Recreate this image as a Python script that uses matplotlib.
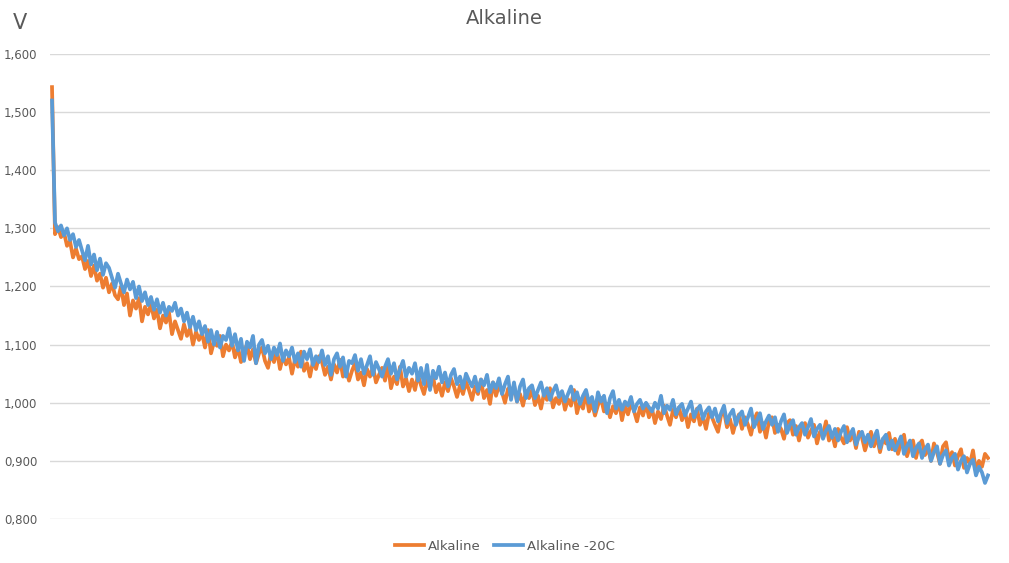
import numpy as np
import matplotlib
matplotlib.use("Agg")
import matplotlib.pyplot as plt
from matplotlib.ticker import FuncFormatter, MultipleLocator

# voltages in mV, one reading per sample
alkaline = [
    1543, 1290, 1302, 1285, 1293, 1270, 1278, 1250, 1265, 1247,
    1252, 1230, 1244, 1218, 1236, 1210, 1222, 1198, 1215, 1190,
    1205, 1185, 1178, 1200, 1168, 1188, 1150, 1176, 1162, 1180,
    1140, 1165, 1152, 1170, 1145, 1160, 1128, 1150, 1138, 1155,
    1118, 1140, 1125, 1110, 1135, 1115, 1128, 1100, 1122, 1108,
    1120, 1095, 1125, 1085, 1105, 1098, 1115, 1080, 1100, 1090,
    1105, 1078, 1095, 1070, 1088, 1100, 1075, 1092, 1068, 1085,
    1095, 1072, 1060, 1085, 1070, 1090, 1058, 1080, 1066, 1078,
    1050, 1075, 1062, 1088, 1055, 1068, 1045, 1072, 1058, 1080,
    1070, 1048, 1062, 1040, 1066, 1052, 1074, 1045, 1058, 1038,
    1055, 1068, 1040, 1052, 1030, 1058, 1045, 1062, 1035, 1048,
    1060, 1038, 1065, 1025, 1045, 1032, 1062, 1028, 1042, 1020,
    1040, 1022, 1048, 1030, 1015, 1038, 1025, 1045, 1018, 1032,
    1012, 1035, 1020, 1042, 1028, 1010, 1030, 1015, 1036, 1022,
    1005, 1028, 1015, 1040, 1008, 1022, 998, 1035, 1012, 1030,
    1018, 1000, 1024, 1010, 1030, 1002, 1015, 995, 1020, 1008,
    1022, 996, 1012, 990, 1016, 1005, 1025, 992, 1008, 998,
    1015, 988, 1006, 995, 1022, 982, 1002, 990, 1018, 985,
    1000, 978, 996, 1008, 985, 998, 975, 994, 982, 1002,
    970, 995, 980, 1000, 986, 968, 992, 978, 998, 975,
    990, 965, 985, 972, 995, 978, 962, 988, 975, 992,
    970, 985, 958, 980, 968, 990, 962, 976, 955, 982,
    975, 962, 950, 978, 985, 958, 972, 948, 968, 980,
    955, 975, 962, 945, 970, 982, 950, 965, 940, 968,
    975, 948, 962, 955, 938, 965, 970, 945, 960, 935,
    958, 965, 940, 952, 962, 930, 950, 945, 968, 935,
    948, 925, 955, 940, 930, 958, 935, 948, 922, 950,
    940, 918, 935, 950, 925, 942, 915, 938, 930, 948,
    920, 938, 912, 930, 945, 908, 925, 935, 905, 928,
    935, 910, 922, 900, 930, 915, 895, 925, 932, 902,
    915, 892, 908, 920, 888, 905, 895, 918, 882, 900,
    890, 912, 905,
]
alkaline_m20 = [
    1520, 1310, 1295, 1305, 1288, 1300, 1280, 1290, 1268, 1280,
    1262, 1245, 1270, 1238, 1255, 1228, 1248, 1220, 1240, 1232,
    1215, 1198, 1222, 1205, 1190, 1212, 1195, 1208, 1180, 1200,
    1175, 1190, 1168, 1182, 1160, 1178, 1155, 1172, 1150, 1165,
    1158, 1172, 1150, 1162, 1140, 1155, 1130, 1148, 1125, 1140,
    1118, 1132, 1105, 1125, 1100, 1122, 1095, 1115, 1108, 1128,
    1098, 1118, 1090, 1110, 1072, 1105, 1095, 1115, 1068, 1100,
    1108, 1085, 1098, 1075, 1095, 1082, 1102, 1072, 1090, 1080,
    1095, 1070, 1085, 1062, 1088, 1075, 1092, 1065, 1080, 1070,
    1090, 1065, 1080, 1048, 1075, 1085, 1062, 1078, 1045, 1072,
    1068, 1082, 1055, 1075, 1050, 1065, 1080, 1048, 1070, 1058,
    1045, 1062, 1075, 1050, 1068, 1040, 1058, 1072, 1045, 1060,
    1050, 1068, 1038, 1060, 1032, 1065, 1022, 1055, 1042, 1062,
    1035, 1052, 1028, 1048, 1058, 1032, 1045, 1025, 1050, 1038,
    1028, 1045, 1020, 1040, 1030, 1048, 1018, 1035, 1025, 1042,
    1015, 1032, 1045, 1005, 1035, 1002, 1028, 1040, 1008, 1025,
    1030, 1008, 1022, 1035, 1012, 1025, 1005, 1020, 1030, 1010,
    1020, 1002, 1015, 1028, 1005, 1018, 998, 1012, 1022, 1000,
    1010, 985, 1018, 1002, 1012, 982, 1008, 1020, 990, 1005,
    988, 1002, 995, 1010, 985, 998, 1005, 990, 1000, 992,
    985, 1000, 990, 1012, 982, 995, 988, 1005, 980, 992,
    998, 978, 990, 1002, 975, 988, 995, 972, 985, 992,
    975, 990, 968, 982, 995, 965, 980, 988, 962, 978,
    985, 962, 975, 990, 958, 970, 982, 955, 968, 978,
    962, 975, 950, 968, 980, 948, 962, 970, 945, 958,
    965, 945, 958, 972, 942, 955, 962, 938, 952, 960,
    940, 955, 935, 950, 960, 932, 945, 955, 928, 942,
    950, 932, 945, 925, 940, 952, 922, 938, 945, 920,
    935, 918, 930, 942, 912, 925, 935, 908, 922, 930,
    905, 920, 928, 900, 915, 925, 895, 910, 918, 892,
    905, 912, 885, 900, 908, 880, 895, 902, 875, 890,
    880, 862, 875,
]
labels = ["Alkaline", "Alkaline -20C"]

orange = "#ED7D31"
blue = "#5B9BD5"
grey = "#595959"

fig = plt.figure(figsize=(10.09, 5.63), dpi=100)
ax = fig.add_axes([50 / 1009, 1 - 519 / 563, 940 / 1009, 465 / 563])

x1 = np.arange(len(alkaline))
x2 = np.arange(len(alkaline_m20))
ax.plot(x1, np.array(alkaline) / 1000, color=orange, lw=2.7, label=labels[0])
ax.plot(x2, np.array(alkaline_m20) / 1000, color=blue, lw=2.7, label=labels[1])

ax.set_ylim(0.8, 1.6)
ax.set_xlim(-0.67, 312.67)
ax.yaxis.set_major_locator(MultipleLocator(0.1))
ax.yaxis.set_major_formatter(FuncFormatter(lambda v, p: f"{v:.3f}".replace(".", ",")))
ax.set_xticks([])
ax.tick_params(axis="y", length=0, labelsize=8.5, labelcolor=grey, pad=9)
ax.grid(axis="y", color="#D9D9D9", lw=1)
ax.set_axisbelow(True)
for s in ax.spines.values():
    s.set_visible(False)

fig.text(0.5, 1 - 19 / 563, "Alkaline", ha="center", va="center", fontsize=14, color=grey)
fig.text(20 / 1009, 1 - 23 / 563, "V", ha="center", va="center", fontsize=15, color=grey)

fig.legend(loc="center", bbox_to_anchor=(0.5, 1 - 546 / 563), ncol=2, frameon=False,
           fontsize=9.5, labelcolor=grey, handlelength=2.2, columnspacing=1.0,
           handletextpad=0.3)

fig.savefig("out.png", dpi=100)
